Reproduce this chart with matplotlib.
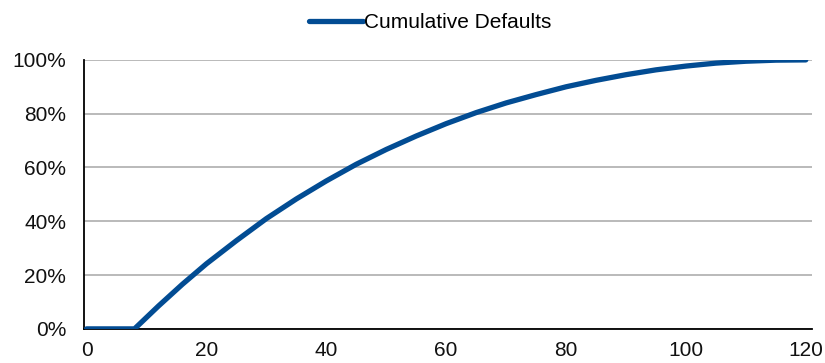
import matplotlib.pyplot as plt
from matplotlib.ticker import PercentFormatter

# months since origination and cumulative share of defaults (%)
months = [0, 8, 12, 16, 20, 25, 30, 35, 40, 45, 50, 55, 60, 65, 70,
          75, 80, 85, 90, 95, 100, 105, 110, 115, 120]
cum_defaults = [0.0, 0.0, 8.5, 16.6, 24.2, 32.8, 41.0, 48.3, 55.0, 61.2, 66.7,
                71.7, 76.3, 80.4, 84.0, 87.1, 90.0, 92.4, 94.5, 96.3, 97.7,
                98.8, 99.5, 99.9, 100.0]
series_name = 'Cumulative Defaults'
x_ticks = [0, 20, 40, 60, 80, 100, 120]
y_ticks = [0, 20, 40, 60, 80, 100]

plt.rcParams['font.family'] = ['Liberation Sans', 'DejaVu Sans']

fig = plt.figure(figsize=(8.25, 3.63), dpi=100)
ax = fig.add_axes([0.102, 0.094, 0.882, 0.741])

ax.plot(months, cum_defaults, color='#024C93', lw=3.8,
        solid_capstyle='round', solid_joinstyle='round', label=series_name,
        zorder=3)

ax.set_xlim(-0.4, 121)
ax.set_ylim(0, 100)
ax.set_xticks(x_ticks)
ax.set_yticks(y_ticks)
ax.yaxis.set_major_formatter(PercentFormatter(decimals=0))
ax.tick_params(axis='both', length=0, labelsize=15, colors='#111111')
ax.tick_params(axis='y', pad=13)
ax.tick_params(axis='x', pad=9)

ax.grid(axis='y', color='#B4B4B4', lw=1.3, zorder=1)
ax.set_axisbelow(True)
for side in ('top', 'right'):
    ax.spines[side].set_visible(False)
for side in ('left', 'bottom'):
    ax.spines[side].set_color('black')
    ax.spines[side].set_linewidth(1.3)
    ax.spines[side].set_zorder(2)

fig.legend(loc='center', bbox_to_anchor=(0.521, 0.938), frameon=False,
           fontsize=15, handlelength=2.6, handletextpad=0.05)

fig.savefig('out.png', dpi=100)
